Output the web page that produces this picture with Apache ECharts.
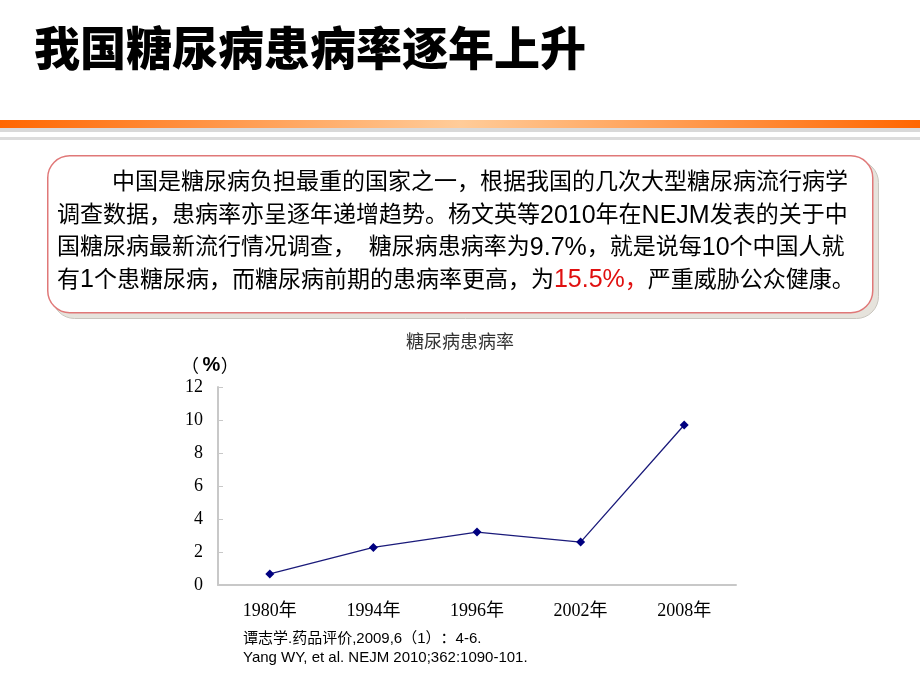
<!DOCTYPE html>
<html>
<head>
<meta charset="utf-8">
<script src="https://cdn.jsdelivr.net/npm/echarts@6/dist/echarts.min.js"></script>
<style>
html,body{margin:0;padding:0;background:#fff;}
#c{width:920px;height:690px;}
</style>
</head>
<body>
<div id="c"></div>
<script>
const slideTitle = '我国糖尿病患病率逐年上升';
const chartTitle = '糖尿病患病率';
const unitParts = ['（', '%', '）'];
const categories = ['1980年', '1994年', '1996年', '2002年', '2008年'];
const prevalence = [0.67, 2.28, 3.21, 2.6, 9.7];
const yTicks = [0, 2, 4, 6, 8, 10, 12];
const boxLines = [
  '中国是糖尿病负担最重的国家之一，根据我国的几次大型糖尿病流行病学',
  '调查数据，患病率亦呈逐年递增趋势。杨文英等2010年在NEJM发表的关于中',
  '国糖尿病最新流行情况调查，  糖尿病患病率为9.7%，就是说每10个中国人就'
];
const lastLineParts = ['有1个患糖尿病，而糖尿病前期的患病率更高，为', '15.5%，', '严重威胁公众健康。'];
const refs = ['谭志学.药品评价,2009,6（1）：4-6.', 'Yang WY, et al. NEJM 2010;362:1090-101.'];

const bodyFont = '"Liberation Sans", "Noto Sans CJK SC", sans-serif';
const serifFont = '"Liberation Serif", "Noto Sans CJK SC", serif';

// split a string into rich-text runs: ASCII runs use a slightly larger latin style
function toRich(str, cjkStyle, latinStyle) {
  const runs = str.match(/[\x20-\x7e]+|[^\x20-\x7e]+/g) || [];
  return runs.map(r => '{' + (/^[\x20-\x7e]+$/.test(r) && /[^ ]/.test(r) ? latinStyle : cjkStyle) + '|' + r + '}').join('');
}
// reference line: give full-width brackets / colon their full cell width
function refRich(str) {
  const runs = str.match(/[（）：]|[^（）：]+/g) || [];
  return runs.map(r => '{' + (r === '（' ? 'po' : r === '）' ? 'pc' : r === '：' ? 'pm' : 't') + '|' + r + '}').join('');
}

const chart = echarts.init(document.getElementById('c'), null, {renderer: 'canvas'});

const rich = {
  a: {fontSize: 23, fontFamily: bodyFont, fill: '#000', lineHeight: 30},
  l: {fontSize: 25, fontFamily: bodyFont, fill: '#000', lineHeight: 30},
  ra: {fontSize: 23, fontFamily: bodyFont, fill: '#e01010', lineHeight: 30},
  rl: {fontSize: 25, fontFamily: bodyFont, fill: '#e01010', lineHeight: 30}
};
const refStyle = {fontSize: 15, fontFamily: bodyFont, fill: '#000', lineHeight: 19};
const refRichStyles = {
  t: refStyle,
  po: Object.assign({}, refStyle, {width: 15, align: 'right'}),
  pc: Object.assign({}, refStyle, {width: 15, align: 'left'}),
  pm: Object.assign({}, refStyle, {width: 15, align: 'center'})
};

const graphics = [
  {type: 'text', left: 34, top: 25, style: {text: slideTitle, font: '900 46px "Noto Sans CJK SC"', fill: '#000'}},
  {type: 'rect', left: 0, top: 120, shape: {width: 920, height: 8},
   style: {fill: new echarts.graphic.LinearGradient(0, 0, 1, 0, [
     {offset: 0, color: '#ff6600'}, {offset: 0.5, color: '#ffcc99'}, {offset: 1, color: '#ff6600'}])}},
  {type: 'rect', left: 0, top: 128, shape: {width: 920, height: 4}, style: {fill: '#d9d9d9'}},
  {type: 'rect', left: 0, top: 137, shape: {width: 920, height: 3}, style: {fill: '#dcdcdc'}},
  // shadow
  {type: 'rect', left: 52, top: 160, shape: {width: 826, height: 158, r: 22},
   style: {fill: '#e6e3dc', stroke: '#c9c6bf', lineWidth: 1}},
  {type: 'rect', left: 47, top: 155, shape: {width: 825, height: 157, r: 22},
   style: {fill: '#fff', stroke: '#e07878', lineWidth: 1.5}},
];
const lineX = [112, 57, 57];
const lineY0 = 186, lineGap = 32.3;
boxLines.forEach((t, i) => {
  graphics.push({type: 'text', left: lineX[i], top: lineY0 + i * lineGap - 15,
    style: {text: toRich(t, 'a', 'l'), rich: rich}});
});
graphics.push({type: 'text', left: 57, top: lineY0 + 3 * lineGap - 15,
  style: {text: toRich(lastLineParts[0], 'a', 'l') + toRich(lastLineParts[1], 'ra', 'rl') + toRich(lastLineParts[2], 'a', 'l'),
    rich: rich}});
graphics.push({type: 'text', left: 181, top: 355, style: {
  text: '{po|' + unitParts[0] + '}{b|' + unitParts[1] + '}{pc|' + unitParts[2] + '}',
  rich: {po: {fontSize: 18, fontFamily: '"Noto Sans CJK SC"', fill: '#000', width: 25, align: 'right'},
         b: {fontSize: 20, fontWeight: 'bold', fontFamily: '"Liberation Sans"', fill: '#000'},
         pc: {fontSize: 18, fontFamily: '"Noto Sans CJK SC"', fill: '#000', width: 19, align: 'left'}}}});
refs.forEach((t, i) => {
  graphics.push({type: 'text', left: 243, top: 631 + i * 19, style: {text: refRich(t), rich: refRichStyles}});
});

chart.setOption({
  animation: false,
  title: {text: chartTitle, left: 455, textAlign: 'center', top: 329,
    textStyle: {fontSize: 18, fontWeight: 'normal', color: '#333', fontFamily: serifFont}},
  grid: {left: 218, right: 184, top: 387, bottom: 105},
  xAxis: {
    type: 'category', data: categories, boundaryGap: true,
    axisLine: {lineStyle: {color: '#c8c8c8', width: 2}},
    axisTick: {inside: true, length: 6, lineStyle: {color: '#c8c8c8', width: 1}},
    axisLabel: {margin: 17, fontSize: 18, color: '#000', fontFamily: serifFont}
  },
  yAxis: {
    type: 'value', min: 0, max: 12, interval: 2,
    axisLine: {show: true, lineStyle: {color: '#c8c8c8', width: 2}},
    axisTick: {show: true, inside: true, length: 5, lineStyle: {color: '#c8c8c8'}},
    splitLine: {show: false},
    axisLabel: {margin: 15, fontSize: 18, color: '#000', fontFamily: serifFont,
      formatter: v => yTicks.includes(v) ? String(v) : ''}
  },
  series: [{
    type: 'line', data: prevalence, symbol: 'diamond', symbolSize: 9,
    lineStyle: {color: '#1a1a7a', width: 1.3},
    itemStyle: {color: '#000080'}
  }],
  graphic: graphics
});
</script>
</body>
</html>
